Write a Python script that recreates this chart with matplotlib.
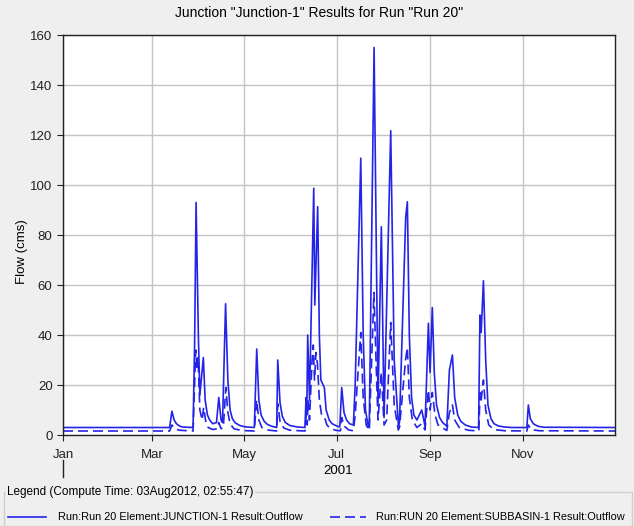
import matplotlib
matplotlib.use("Agg")
import matplotlib.pyplot as plt
from matplotlib.lines import Line2D
from matplotlib.patches import Rectangle
import pandas as pd

# values (day of year 2001 -> flow in cms)
junction_days = [0, 70.5, 72, 73.5, 75, 77, 79, 86, 87, 88, 89.5, 90.5, 92.8, 94, 95.5, 97, 99,
                 101.5, 103, 104.5, 105.5, 107.5, 109, 110.5, 112, 114, 117, 120, 126.5,
                 128.1, 129.5, 131, 133, 135, 138, 141.3, 142, 143.5, 145, 147, 150, 155, 160,
                 160.7, 161.2, 161.8, 163, 165.8, 166.5, 168.4, 169.5, 170.5, 172.8, 174, 176,
                 178, 181, 183, 184.3, 185.8, 187.5, 189.5, 192, 193.2, 196.9, 198.5, 200,
                 201.9, 202.5, 205.7, 208.3, 210.5, 212.3, 216.7, 219, 221.8, 222.5, 226.6,
                 227.7, 229, 230.5, 232, 234, 237.2, 239.4, 241.6, 242.7, 244.2, 245.5, 247,
                 249, 251, 253.8, 255.5, 257.5, 259, 261, 263, 266, 270, 274.8, 275.7, 276.5,
                 278, 279.5, 281, 283, 285, 288, 292, 297, 306.7, 307.7, 309, 311, 314, 318, 365]
junction_flow = [3.0, 3.0, 9.5, 6, 4.5, 3.6, 3.2, 3.0, 35, 93, 40, 16, 31, 14, 8, 6, 4.5,
                 5, 15, 6, 5, 52.5, 22, 10, 6.5, 4.8, 3.8, 3.3, 3.0,
                 34.4, 14, 8, 5.5, 4.3, 3.5, 3.0, 30, 13, 7.5, 5, 3.8, 3.2, 3.0,
                 15, 8, 40, 14, 98.7, 52, 91.3, 40, 22, 19, 10, 6,
                 4.5, 3.6, 3.2, 19, 9, 6, 4.5, 4, 20, 110.7, 40, 10,
                 3.2, 3.2, 155, 13, 83.3, 7, 121.7, 30, 3.8, 5, 87,
                 93.3, 40, 15, 8, 6, 10, 3.5, 44.7, 25, 51, 25, 12,
                 7, 5, 3.5, 26, 32, 15, 8, 5.5, 4, 3.2, 3.0, 48, 41,
                 61.7, 30, 12, 6.5, 4.5, 3.6, 3.2, 3.0, 3.0, 12, 6.5, 4.5, 3.5, 3.1, 3.0]

subbasin_days = [0, 70.5, 72, 74, 77, 86, 87, 87.8, 88.6, 89.3, 90.5, 92, 93, 94.5, 96, 99,
                 102, 103, 104.5, 106, 107.7, 109, 110.5, 113, 118, 126.5, 128, 129.5, 131.5,
                 135, 141.3, 142, 143.5, 146, 150, 160, 160.8, 161.5, 162, 163, 164.7, 165.5,
                 166.3, 167.3, 168.3, 169.5, 171, 173, 174.5, 177, 181, 183.5, 184.3, 186, 189,
                 192, 193.2, 196.9, 198.5, 200.5, 202.5, 205.6, 207.5, 208.3, 210.5, 212.3,
                 214, 216.7, 219, 221.7, 222.5, 226.5, 227.7, 229, 231, 234, 237.2, 239.4,
                 241.6, 242.7, 244.2, 246, 248, 253.8, 255.5, 257.5, 259, 262, 268, 275,
                 275.7, 276.5, 278, 279.5, 281.5, 285, 292, 306.7, 307.7, 309.5, 315, 365]
subbasin_flow = [1.6, 1.6, 4, 2.5, 1.9, 1.6, 20, 34, 26, 31, 10, 6, 11, 5, 3, 2.2,
                 2.5, 5, 2.5, 3, 19, 9, 4.5, 2.5, 1.8, 1.6, 14, 6, 3,
                 2, 1.6, 12.5, 5.5, 2.8, 1.9, 1.6, 8, 4, 14, 6, 30, 36,
                 22, 33, 28, 14, 8, 7, 4, 2.5, 1.8, 1.7, 7, 3.5, 2,
                 1.7, 8, 41, 15, 4, 1.8, 57, 20, 6, 25, 4,
                 6, 45, 12, 2, 3, 30, 35, 15, 6, 3, 4.5, 2,
                 18, 10, 17, 8, 4, 1.8, 9, 12, 6, 3, 1.9, 1.6,
                 17, 14, 22, 10, 4, 2.2, 1.7, 1.6, 4, 2.2, 1.7, 1.6]

y_ticks = [0, 20, 40, 60, 80, 100, 120, 140, 160]
month_ticks = ["2001-01-01", "2001-03-01", "2001-05-01", "2001-07-01", "2001-09-01", "2001-11-01"]
month_labels = ["Jan", "Mar", "May", "Jul", "Sep", "Nov"]

title = 'Junction "Junction-1" Results for Run "Run 20"'
legend_title = "Legend (Compute Time: 03Aug2012, 02:55:47)"
label_junction = "Run:Run 20 Element:JUNCTION-1 Result:Outflow"
label_subbasin = "Run:RUN 20 Element:SUBBASIN-1 Result:Outflow"

plt.rcParams['font.family'] = ['Liberation Sans', 'DejaVu Sans']

start = pd.Timestamp("2001-01-01")
t_junction = start + pd.to_timedelta(junction_days, unit="D")
t_subbasin = start + pd.to_timedelta(subbasin_days, unit="D")

bg = "#efefef"
blue = "#2424e8"
W, H = 634, 526

fig = plt.figure(figsize=(W / 100, H / 100), dpi=100, facecolor=bg)
ax = fig.add_axes([63 / W, 1 - 435 / H, (615 - 63) / W, (435 - 35) / H])
ax.set_facecolor("white")

ax.plot(t_junction, junction_flow, color=blue, lw=1.2)
ax.plot(t_subbasin, subbasin_flow, color=blue, lw=1.2, ls=(0, (6, 3)))

ax.set_xlim(start, pd.Timestamp("2002-01-01"))
ax.set_ylim(0, 160)
ax.set_yticks(y_ticks)
ax.set_xticks(pd.to_datetime(month_ticks))
ax.set_xticklabels(month_labels)
ax.grid(True, color="#c4c4c4", lw=1.0)
ax.set_axisbelow(True)
for s in ax.spines.values():
    s.set_color("#222222")
    s.set_linewidth(1.0)
ax.tick_params(direction="out", length=4, width=0.8, labelsize=9.5, colors="#222222")
ax.tick_params(axis="x", pad=6)
ax.set_ylabel("Flow (cms)", fontsize=9.5)
ax.yaxis.set_label_coords(-(63 - 28) / (615 - 63), (435 - 252) / 400)

fig.text(0.5 * (175 + 463) / W, 1 - 13 / H, title, ha="center", va="center", fontsize=10)

# second level of the time axis
fig.add_artist(Line2D([63 / W, 63 / W], [1 - 460 / H, 1 - 477 / H], color="#222222", lw=1.0))
fig.text(338 / W, 1 - 471 / H, "2001", ha="center", va="center", fontsize=9.5)

# legend panel
fig.add_artist(Rectangle((4 / W, 0), 628 / W, 1 - 492 / H, transform=fig.transFigure,
                         fill=False, edgecolor="#cfcfcf", lw=1.0))
fig.text(7 / W, 1 - 492 / H, legend_title, ha="left", va="center", fontsize=8.5,
         bbox=dict(facecolor=bg, edgecolor="none", pad=1))
fig.add_artist(Line2D([8 / W, 46 / W], [1 - 517 / H] * 2, color=blue, lw=1.2))
fig.text(58 / W, 1 - 517 / H, label_junction, ha="left", va="center", fontsize=7.9)
fig.add_artist(Line2D([330 / W, 366 / W], [1 - 517 / H] * 2, color=blue, lw=1.2, ls=(0, (6, 3))))
fig.text(376 / W, 1 - 517 / H, label_subbasin, ha="left", va="center", fontsize=7.9)

fig.savefig("out.png", dpi=100, facecolor=bg)
